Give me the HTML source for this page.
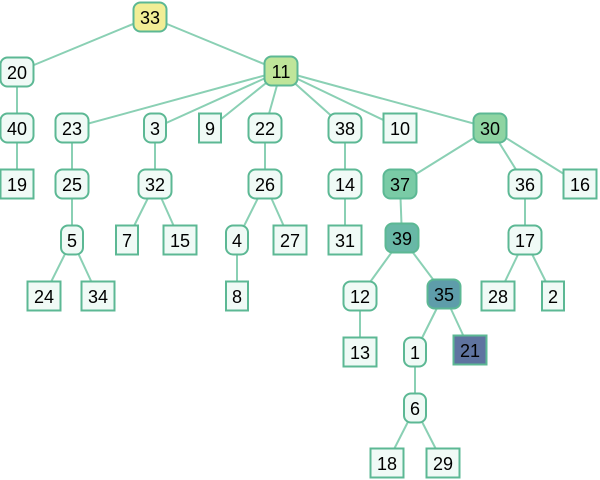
<!DOCTYPE html><html><head><style>body{margin:0;background:#fff}svg{display:block}text{font-family:"Liberation Sans",sans-serif;font-size:18px;text-anchor:middle;dominant-baseline:central;fill:#000}</style></head><body>
<svg width="600" height="480" viewBox="0 0 600 480" id="s"></svg>
<script>
const N={33:[150,17,'r','#f2ee96'],20:[17,72,'r'],11:[281,71,'r','#bfe59a'],40:[17,128,'r'],23:[72,128,'r'],3:[155,128,'r'],9:[210,128,'s'],22:[265,128,'r'],38:[345,128,'r'],10:[400,128,'s'],30:[490,128,'r','#8ed4a2'],
19:[17,184,'s'],25:[72,184,'r'],32:[155,184,'r'],26:[265,184,'r'],14:[345,184,'r'],37:[400,184,'r','#7acba6'],36:[525,184,'r'],16:[580,184,'s'],
5:[72,240,'r'],7:[127,240,'s'],15:[180,240,'s'],4:[237,240,'r'],27:[290,240,'s'],31:[345,240,'s'],39:[402,238,'r','#68b8a6'],17:[525,240,'r'],
24:[44,296,'s'],34:[98,296,'s'],8:[237,296,'s'],12:[360,296,'r'],35:[444,294,'r','#5e9daa'],28:[498,296,'s'],2:[553,296,'s'],
13:[360,352,'s'],1:[415,352,'r'],21:[470,350,'s','#5f74a0'],6:[415,408,'r'],18:[387,463,'s'],29:[443,463,'s']};
const E=[[33,20],[33,11],[20,40],[40,19],[11,23],[11,3],[11,9],[11,22],[11,38],[11,10],[11,30],[23,25],[25,5],[5,24],[5,34],[3,32],[32,7],[32,15],[22,26],[26,4],[26,27],[4,8],[38,14],[14,31],[30,37],[30,36],[30,16],[37,39],[39,12],[39,35],[12,13],[35,1],[35,21],[1,6],[6,18],[6,29],[36,17],[17,28],[17,2]];
let h='';
for(const[a,b]of E){const p=N[a],q=N[b];h+=`<line x1="${p[0]}" y1="${p[1]}" x2="${q[0]}" y2="${q[1]}" stroke="#8ad0b4" stroke-width="2"/>`;}
for(const k in N){const[x,y,t,f]=N[k];const w=k.length>1?33:22,hh=29;const rx=t=='r'?7:0;
h+=`<rect x="${x-w/2}" y="${y-hh/2}" width="${w}" height="${hh}" rx="${rx}" fill="${f||'#f0faf6'}" stroke="#5cb894" stroke-width="2"/><text x="${x}" y="${y+1}">${k}</text>`;}
document.getElementById('s').innerHTML=h;
</script></body></html>
